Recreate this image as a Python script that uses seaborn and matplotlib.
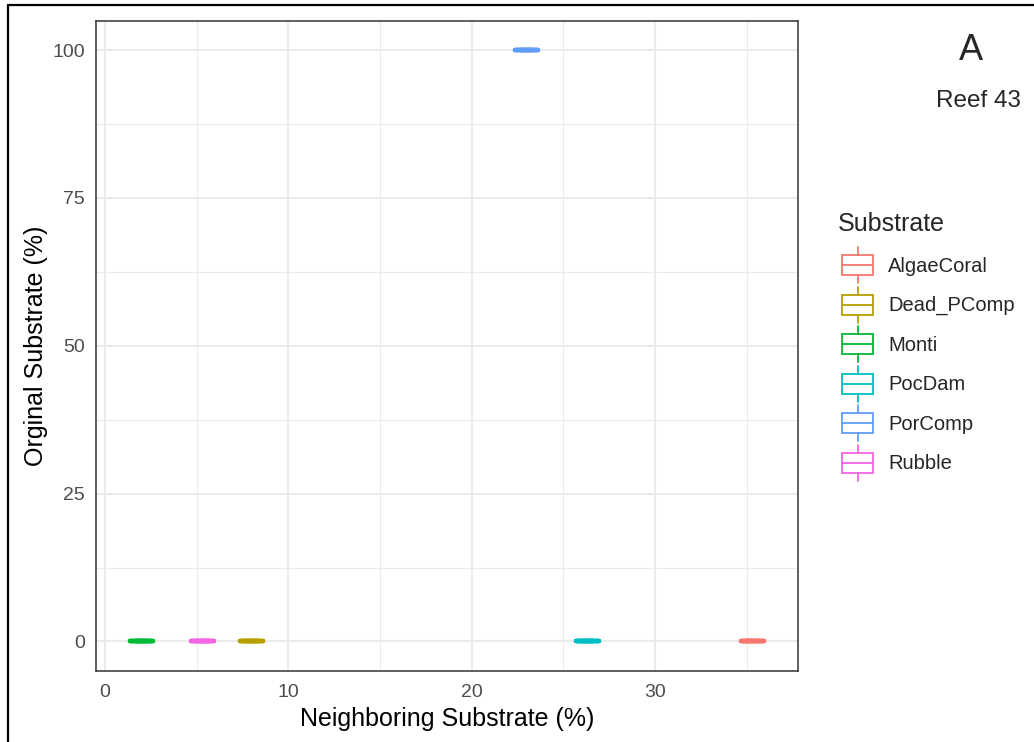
import matplotlib
matplotlib.use("Agg")
import matplotlib.pyplot as plt
from matplotlib.legend_handler import HandlerBase
from matplotlib.lines import Line2D
from matplotlib.patches import Rectangle, Patch
from matplotlib.ticker import MultipleLocator
import pandas as pd
import seaborn as sns

# Substrate composition around Reef 43
substrates = ["AlgaeCoral", "Dead_PComp", "Monti", "PocDam", "PorComp", "Rubble"]
neighboring_pct = [35.3, 8.0, 2.0, 26.3, 23.0, 5.3]
original_pct = [0, 0, 0, 0, 100, 0]
palette = ["#F8766D", "#B79F00", "#00BA38", "#00BFC4", "#619CFF", "#F564E3"]

df = pd.DataFrame({"Substrate": substrates,
                   "Neighboring": neighboring_pct,
                   "Original": original_pct})

sns.set_theme(style="white")
plt.rcParams["font.family"] = ["Liberation Sans", "DejaVu Sans"]

W, H = 1034, 742
fig = plt.figure(figsize=(W / 100, H / 100), dpi=100)
ax = fig.add_axes([96 / W, 1 - 671 / H, (798 - 96) / W, (671 - 20.5) / H])

# Boxes span about 1.25 percentage units on the native x scale
xs = sorted(set(neighboring_pct))
min_gap = min(b - a for a, b in zip(xs, xs[1:]))
sns.boxplot(data=df, x="Neighboring", y="Original", hue="Substrate",
            hue_order=substrates, palette=palette, native_scale=True,
            orient="x", dodge=False, fill=False, width=1.25 / min_gap,
            linewidth=3.2, legend=False, ax=ax)

ax.set_xlim(-0.5, 37.8)
ax.set_ylim(-5, 105)
ax.xaxis.set_major_locator(MultipleLocator(10))
ax.xaxis.set_minor_locator(MultipleLocator(5))
ax.yaxis.set_major_locator(MultipleLocator(25))
ax.yaxis.set_minor_locator(MultipleLocator(12.5))
ax.grid(which="major", color="#EBEBEB", linewidth=1.5)
ax.grid(which="minor", color="#EBEBEB", linewidth=0.8)
ax.set_axisbelow(True)
for s in ax.spines.values():
    s.set_color("#333333")
    s.set_linewidth(1.1)
ax.tick_params(which="major", direction="out", length=5, width=1.1,
               color="#333333", labelcolor="#4D4D4D", labelsize=14, pad=3)
ax.tick_params(axis="x", which="major", pad=4.5)
ax.tick_params(which="minor", length=0)
ax.set_xlabel("Neighboring Substrate (%)", fontsize=18, color="black", labelpad=4)
ax.set_ylabel("Orginal Substrate (%)", fontsize=18, color="black", labelpad=3)


class BoxKey(HandlerBase):
    def create_artists(self, legend, orig_handle, xdescent, ydescent,
                       width, height, fontsize, trans):
        c = orig_handle.get_edgecolor()
        cy = height / 2 - ydescent
        x0, x1 = -xdescent, -xdescent + width
        xm = (x0 + x1) / 2
        hb, hw = 7.2, 13.0
        box = Rectangle((x0, cy - hb), width, 2 * hb, fill=False,
                        edgecolor=c, linewidth=1.3, transform=trans)
        med = Line2D([x0, x1], [cy, cy], color=c, linewidth=1.3, transform=trans)
        w1 = Line2D([xm, xm], [cy + hb, cy + hw], color=c, linewidth=1.3, transform=trans)
        w2 = Line2D([xm, xm], [cy - hb, cy - hw], color=c, linewidth=1.3, transform=trans)
        return [box, med, w1, w2]


handles = [Patch(edgecolor=col, facecolor="none") for col in palette]
leg = fig.legend(handles, substrates, handler_map={Patch: BoxKey()},
                 loc="upper left", bbox_to_anchor=(842 / W, 1 - 251 / H),
                 frameon=False, fontsize=14.5, handlelength=1.55,
                 handleheight=1.8, labelspacing=0.545, handletextpad=0.75,
                 borderaxespad=0, borderpad=0)
fig.text(838 / W, 1 - 224 / H, "Substrate", fontsize=18, ha="left", va="center")

fig.text(971 / W, 1 - 50 / H, "A", fontsize=26, ha="center", va="center")
fig.text(979 / W, 1 - 101 / H, "Reef 43", fontsize=17.5, ha="center", va="center")

# Frame lines on the left and top edge of the figure
fig.add_artist(Line2D([8 / W, 8 / W], [0, 1 - 5 / H], color="black",
                      linewidth=1.6, transform=fig.transFigure))
fig.add_artist(Line2D([8 / W, 1], [1 - 5 / H, 1 - 5 / H], color="black",
                      linewidth=1.6, transform=fig.transFigure))

fig.savefig("out.png", dpi=100)
